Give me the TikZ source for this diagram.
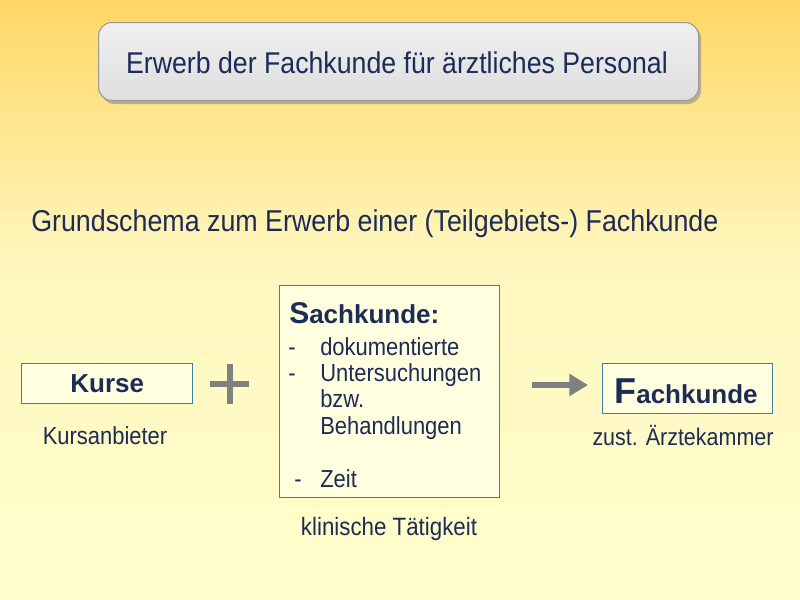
\documentclass[tikz,border=0pt]{standalone}
\usepackage{fontspec}
\setmainfont{Liberation Sans}[FakeStretch=0.89]
\newfontfamily\boldf{Liberation Sans Bold}[FakeStretch=1.0]
\usetikzlibrary{shadows,arrows.meta}
\definecolor{navy}{HTML}{1C2B57}
\definecolor{bgtop}{HTML}{FFD765}
\definecolor{bgmid}{HTML}{FFF6BE}
\definecolor{bgbot}{HTML}{FFFFCC}
\definecolor{boxblue}{HTML}{3F7FA8}
\definecolor{boxfill}{HTML}{FFFFE0}
\definecolor{markgray}{HTML}{808080}
\tikzset{
  txt/.style={text=navy, inner sep=0pt, font=\fontsize{18.5}{22}\selectfont},
  framebox/.style={draw=boxblue, line width=1.1pt, fill=boxfill},
}
\begin{document}
\begin{tikzpicture}[x=0.75pt,y=-0.75pt]
\useasboundingbox (0,0) rectangle (800,600);
% background
\shade[top color=bgtop, bottom color=bgmid] (0,0) rectangle (800,260);
\shade[top color=bgmid, bottom color=bgbot] (0,259) rectangle (800,600);
% title
\fill[black!45, opacity=0.6, rounded corners=10pt] (101,25) rectangle (701,104);
\node[draw=black!40, line width=0.8pt, rounded corners=10pt, top color=black!6, bottom color=black!13,
      minimum width=600*0.75pt, minimum height=78*0.75pt, anchor=north west, inner sep=0pt] (title) at (98,22) {};
\node[txt, font=\fontsize{22.5}{26}\selectfont] (titletext) at (397,63) {Erwerb der Fachkunde für ärztliches Personal};
% subtitle
\node[txt, anchor=west, font=\fontsize{22.6}{26}\selectfont] (sub) at (31,224) {Grundschema zum Erwerb einer (Teilgebiets-) Fachkunde};
% Kurse
\node[framebox, minimum width=171*0.75pt, minimum height=40*0.75pt, anchor=north west, inner sep=0pt] (kurse) at (21,363) {};
\node[txt, font=\fontsize{19.5}{20}\boldf] (kursetext) at (kurse.center) {Kurse};
\node[txt] (anbieter) at (105,436) {Kursanbieter};
% plus
\draw[markgray, line width=6*0.75pt] (210,384) -- (249,384) (229.5,364) -- (229.5,404);
% Sachkunde
\node[framebox, minimum width=220*0.75pt, minimum height=212*0.75pt, anchor=north west, inner sep=0pt] (sach) at (279,285) {};
\node[txt, anchor=base west] (sachhead) at (289,323) {\fontsize{22.5}{24}\boldf S\fontsize{19.5}{20}\boldf achkunde:};
\node[txt, anchor=base west] (d1) at (288,355) {-};
\node[txt, anchor=base west] (l1) at (320,355) {dokumentierte};
\node[txt, anchor=base west] (d2) at (288,381) {-};
\node[txt, anchor=base west] (l2) at (320,381) {Untersuchungen};
\node[txt, anchor=base west] (l3) at (320,407) {bzw.};
\node[txt, anchor=base west] (l4) at (320,434) {Behandlungen};
\node[txt, anchor=base west] (d3) at (294,487) {-};
\node[txt, anchor=base west] (l5) at (320,487) {Zeit};
\node[txt, font=\fontsize{18.8}{22}\selectfont] (klin) at (389,529) {klinische Tätigkeit};
% arrow
\coordinate (arrA) at (532,385);
\coordinate (arrB) at (588,385);
\draw[markgray, line width=6*0.75pt, -{Triangle[length=14pt,width=16pt]}] (arrA) -- (arrB);
% Fachkunde
\node[framebox, minimum width=170*0.75pt, minimum height=50*0.75pt, anchor=north west, inner sep=0pt] (fach) at (602,363) {};
\node[txt, anchor=base] (fachtext) at (686,403) {\fontsize{27}{28}\boldf F\fontsize{19.5}{20}\boldf achkunde};
\node[txt, font=\fontsize{18.1}{22}\selectfont] (kammer) at (683,436) {zust. Ärztekammer};
\end{tikzpicture}
\end{document}
